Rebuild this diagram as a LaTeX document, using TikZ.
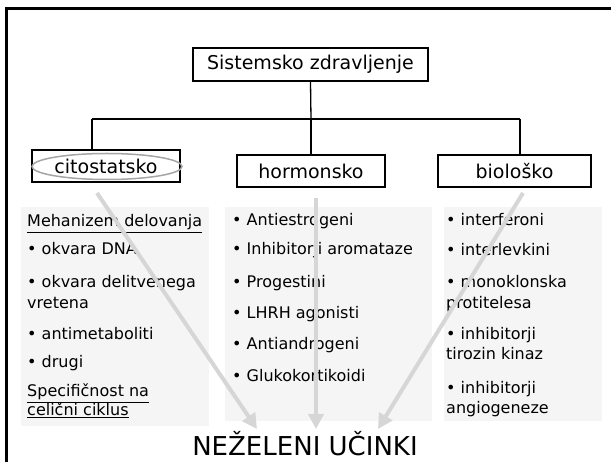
\documentclass[tikz,border=0pt]{standalone}
\usepackage{fontspec}
\setmainfont{DejaVu Sans}
\usetikzlibrary{arrows.meta}
\definecolor{panelgray}{RGB}{245,245,245}
\definecolor{arrowgray}{RGB}{214,214,214}
\definecolor{ellgray}{RGB}{165,165,165}
\begin{document}
\begin{tikzpicture}[x=1pt,y=-1pt,
  box/.style={draw=black,line width=1.3pt,fill=white,inner sep=0pt,
    font=\fontsize{19}{22}\selectfont},
  panel/.style={fill=panelgray,draw=none},
  txt/.style={anchor=base west,inner sep=0pt,font=\fontsize{16}{19}\selectfont},
  conn/.style={line width=1.3pt,draw=black},
  bigarrow/.style={draw=arrowgray,line width=4pt,
    -{Triangle[length=15pt,width=15pt]}},
  frameline/.style={line width=2.6pt,draw=black}]
\useasboundingbox (0,0) rectangle (611,462);
\fill[white] (0,0) rectangle (611,462);
% frame
\draw[frameline] (6.5,462) -- (6.5,8.5) -- (611,8.5);
% boxes
\node[box,minimum width=235pt,minimum height=33pt] (root) at (310.5,64.5) {Sistemsko zdravljenje};
\node[box,minimum width=148pt,minimum height=32pt] (cito) at (106,166) {citostatsko};
\node[box,minimum width=148pt,minimum height=32pt] (horm) at (311,171) {hormonsko};
\node[box,minimum width=153pt,minimum height=32pt] (bio) at (514.5,171) {biološko};
% connectors
\coordinate (jc) at (311,119);
\coordinate (jl) at (92,119);
\coordinate (jr) at (520,119);
\draw[conn] (root.south) -- (jc);
\draw[conn] (jl) -- (jr);
\draw[conn] (jl) -- (jl |- cito.north);
\draw[conn] (jc) -- (horm.north);
\draw[conn] (jr) -- (jr |- bio.north);
\draw[ellgray,line width=1.5pt] (107,166.5) ellipse [x radius=75, y radius=13];
% panels
\fill[panel] (21,207) rectangle (209,426);
\fill[panel] (225,207) rectangle (432,421);
\fill[panel] (444,207) rectangle (602,421);
% panel 1
\node[txt] (a1) at (27,227) {\underline{Mehanizem delovanja}};
\node[txt] (a2) at (27,255) {• okvara DNA};
\node[txt] (a3) at (27,288) {• okvara delitvenega};
\node[txt] (a4) at (27,309) {vretena};
\node[txt] (a5) at (27,340) {• antimetaboliti};
\node[txt] (a6) at (27,368) {• drugi};
\node[txt] (a7) at (27,397) {\underline{Specifičnost na}};
\node[txt] (a8) at (27,416) {\underline{celični ciklus}};
% panel 2
\node[txt] (b1) at (232,226) {• Antiestrogeni};
\node[txt] (b2) at (232,255) {• Inhibitorji aromataze};
\node[txt] (b3) at (232,288) {• Progestini};
\node[txt] (b4) at (232,319) {• LHRH agonisti};
\node[txt] (b5) at (232,350) {• Antiandrogeni};
\node[txt] (b6) at (232,382) {• Glukokortikoidi};
% panel 3
\node[txt] (c1) at (446,226) {• interferoni};
\node[txt] (c2) at (446,256) {• interlevkini};
\node[txt] (c3) at (446,288) {• monoklonska};
\node[txt] (c4) at (446,309) {protitelesa};
\node[txt] (c5) at (446,340) {• inhibitorji};
\node[txt] (c6) at (446,360) {tirozin kinaz};
\node[txt] (c7) at (446,394) {• inhibitorji};
\node[txt] (c8) at (446,414) {angiogeneze};
% bottom
\node[inner sep=0pt,font=\fontsize{26}{30}\selectfont] (ne) at (305,444) {NEŽELENI UČINKI};
% arrows
\coordinate (s1) at (97,193);
\coordinate (s2) at (316,198);
\coordinate (s3) at (523,193);
\coordinate (t1) at (257,429);
\coordinate (t2) at (316,429);
\coordinate (t3) at (378,429);
\draw[bigarrow] (s1) -- (t1);
\draw[bigarrow] (s2) -- (t2);
\draw[bigarrow] (s3) -- (t3);
\end{tikzpicture}
\end{document}
